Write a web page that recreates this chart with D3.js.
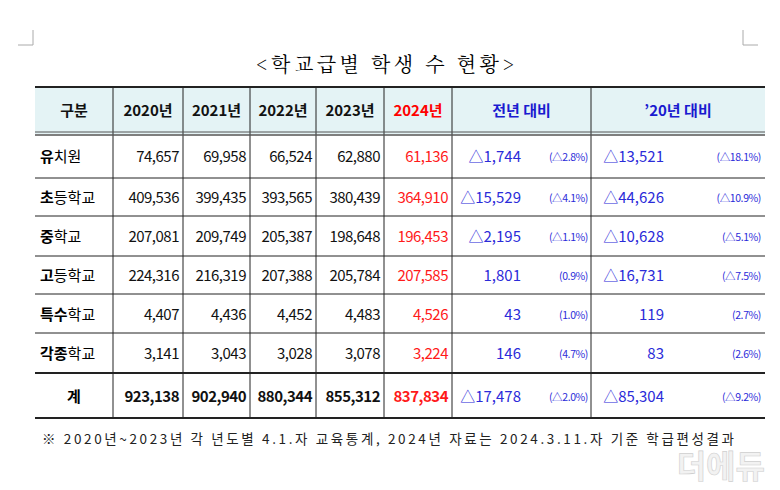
<!DOCTYPE html>
<html><head><meta charset="utf-8">
<script src="https://cdn.jsdelivr.net/npm/d3@7"></script>
<style>body{margin:0;background:#fff}svg{font-family:"Noto Sans CJK KR","Noto Sans",sans-serif}</style>
</head><body><svg id="container" width="780" height="490"></svg>
<script>
const svg = d3.select('#container')

const headers = ['구분', '2020년', '2021년', '2022년', '2023년', '2024년', '전년 대비', '’20년 대비']
const boldPart = ['유', '초', '중', '고', '특수', '각종', '계']
const restPart = ['치원', '등학교', '학교', '등학교', '학교', '학교', '']
const y2020 = ['74,657', '409,536', '207,081', '224,316', '4,407', '3,141', '923,138']
const y2021 = ['69,958', '399,435', '209,749', '216,319', '4,436', '3,043', '902,940']
const y2022 = ['66,524', '393,565', '205,387', '207,388', '4,452', '3,028', '880,344']
const y2023 = ['62,880', '380,439', '198,648', '205,784', '4,483', '3,078', '855,312']
const y2024 = ['61,136', '364,910', '196,453', '207,585', '4,526', '3,224', '837,834']
const prevDiff = ['△1,744', '△15,529', '△2,195', '1,801', '43', '146', '△17,478']
const prevPct = ['(△2.8%)', '(△4.1%)', '(△1.1%)', '(0.9%)', '(1.0%)', '(4.7%)', '(△2.0%)']
const baseDiff = ['△13,521', '△44,626', '△10,628', '△16,731', '119', '83', '△85,304']
const basePct = ['(△18.1%)', '(△10.9%)', '(△5.1%)', '(△7.5%)', '(2.7%)', '(2.6%)', '(△9.2%)']

const colEdges = [35, 113, 183, 250, 316, 384, 452, 591, 765]
const rowEdges = [134, 178, 216, 256, 294, 333, 373, 418]
const nRows = boldPart.length
const blue = '#2b2bd9'

// header
svg.append('rect').attr('x', 35).attr('y', 87).attr('width', 730).attr('height', 47).attr('fill', '#e4f3f5')
svg.append('text').attr('x', 256).attr('y', 72)
  .attr('font-size', 20).attr('font-family', '"Noto Serif CJK KR","Noto Sans CJK KR",serif')
  .attr('textLength', 258).attr('lengthAdjust', 'spacing').text('<학교급별  학생  수  현황>')

headers.forEach((h, i) => {
  svg.append('text').attr('x', (colEdges[i] + colEdges[i + 1]) / 2).attr('y', 116)
    .attr('text-anchor', 'middle').attr('font-size', 15).attr('font-weight', 700)
    .attr('fill', i === 5 ? '#ff0000' : i > 5 ? '#1a1ad0' : '#111').text(h)
})

const rowMid = (r) => (rowEdges[r] + rowEdges[r + 1]) / 2 + 6
const yearCols = [y2020, y2021, y2022, y2023, y2024]

for (let r = 0; r < nRows; r++) {
  const total = r === nRows - 1
  const t = svg.append('text').attr('y', rowMid(r)).attr('font-size', 15)
    .attr('x', total ? 74 : 40).attr('text-anchor', total ? 'middle' : 'start')
  t.append('tspan').attr('font-weight', 700).text(boldPart[r])
  t.append('tspan').text(restPart[r])

  yearCols.forEach((col, c) => {
    svg.append('text').attr('x', colEdges[c + 2] - 4).attr('y', rowMid(r))
      .attr('text-anchor', 'end').attr('font-size', 15).attr('letter-spacing', -0.5)
      .attr('font-weight', total ? 700 : 400)
      .attr('fill', c === 4 ? '#ff1a1a' : '#111').text(col[r])
  })

  svg.append('text').attr('x', 521).attr('y', rowMid(r)).attr('text-anchor', 'end')
    .attr('font-size', 15).attr('fill', blue).text(prevDiff[r])
  svg.append('text').attr('x', 588).attr('y', rowMid(r) - 1).attr('text-anchor', 'end')
    .attr('font-size', 10.5).attr('letter-spacing', -0.4).attr('fill', blue).text(prevPct[r])
  svg.append('text').attr('x', 664).attr('y', rowMid(r)).attr('text-anchor', 'end')
    .attr('font-size', 15).attr('fill', blue).text(baseDiff[r])
  svg.append('text').attr('x', 761).attr('y', rowMid(r) - 1).attr('text-anchor', 'end')
    .attr('font-size', 10.5).attr('letter-spacing', -0.4).attr('fill', blue).text(basePct[r])
}

// grid lines
colEdges.slice(1, -1).forEach((x) => {
  svg.append('line').attr('x1', x).attr('x2', x).attr('y1', 87).attr('y2', 418)
    .attr('stroke', '#222').attr('stroke-width', 1)
})
rowEdges.slice(1, -1).forEach((y, i) => {
  svg.append('line').attr('x1', 35).attr('x2', 765).attr('y1', y).attr('y2', y)
    .attr('stroke', '#222').attr('stroke-width', i === nRows - 2 ? 2 : 1)
})
svg.append('line').attr('x1', 35).attr('x2', 765).attr('y1', 87).attr('y2', 87).attr('stroke', '#222').attr('stroke-width', 2)
svg.append('line').attr('x1', 35).attr('x2', 765).attr('y1', 132).attr('y2', 132).attr('stroke', '#555').attr('stroke-width', 1)
svg.append('line').attr('x1', 35).attr('x2', 765).attr('y1', 135).attr('y2', 135).attr('stroke', '#555').attr('stroke-width', 1.5)
svg.append('line').attr('x1', 35).attr('x2', 765).attr('y1', 418).attr('y2', 418).attr('stroke', '#222').attr('stroke-width', 2)

// footnote
svg.append('text').attr('x', 42).attr('y', 444).attr('font-size', 13.5).attr('fill', '#222')
  .attr('textLength', 692).attr('lengthAdjust', 'spacing')
  .text('※  2020년~2023년  각  년도별  4.1.자  교육통계,  2024년  자료는  2024.3.11.자  기준  학급편성결과')

// corner marks
svg.append('path').attr('d', 'M33,30 V45 H18').attr('fill', 'none').attr('stroke', '#aaa')
svg.append('path').attr('d', 'M743,30 V45 H758').attr('fill', 'none').attr('stroke', '#aaa')

// watermark
svg.append('text').attr('x', 765).attr('y', 478).attr('text-anchor', 'end').attr('font-size', 32)
  .attr('font-weight', 700).attr('fill', '#f2f2f2').attr('stroke', '#cfcfcf').attr('stroke-width', 0.6).text('더에듀')
</script></body></html>
